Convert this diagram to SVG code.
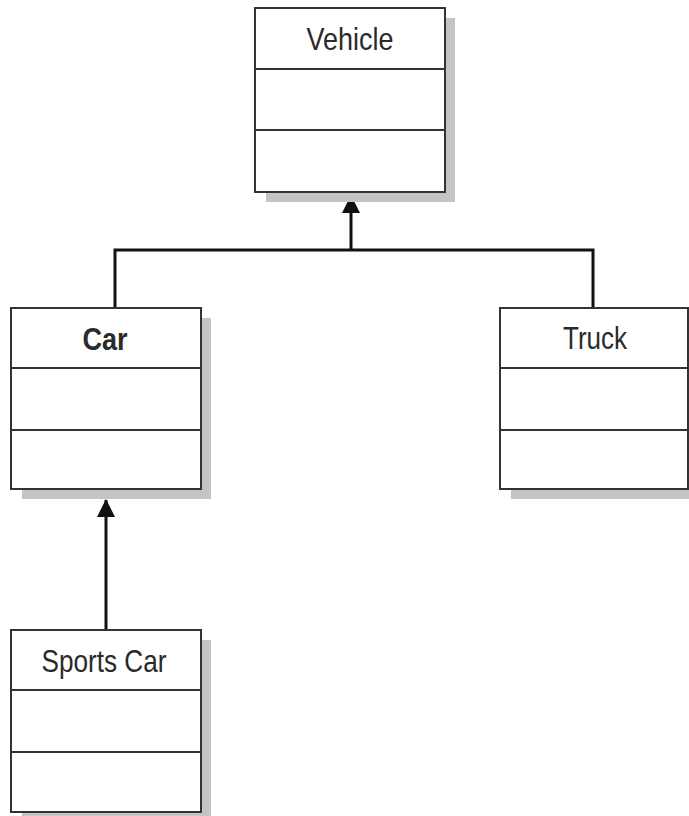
<svg xmlns="http://www.w3.org/2000/svg" width="689" height="816" viewBox="0 0 689 816">
<style>
.shadow{fill:#c4c4c4}
.box{fill:#fff;stroke:#333;stroke-width:2}
.div{stroke:#333;stroke-width:2}
.lbl{font-family:"Liberation Sans",Arial,sans-serif;font-size:32px;fill:#2a2a2a;text-anchor:middle}
.conn{fill:none;stroke:#111;stroke-width:3}
</style>
<defs>
<marker id="arr" markerWidth="18" markerHeight="18" refX="17" refY="9" orient="auto" markerUnits="userSpaceOnUse" viewBox="0 0 18 18">
<path d="M0,0 L18,9 L0,18 Z" fill="#111"/>
</marker>
</defs>
<g id="connectors">
<path class="conn" d="M115,308 V250 H593 V308"/>
<line class="conn" x1="351" y1="250" x2="351" y2="196" marker-end="url(#arr)"/>
<line class="conn" x1="106" y1="630" x2="106" y2="500" marker-end="url(#arr)"/>
</g>
<g id="vehicle">
<rect class="shadow" x="266" y="18" width="189" height="184"/>
<rect class="box" x="255" y="8" width="190" height="184"/>
<line class="div" x1="255" y1="69" x2="445" y2="69"/>
<line class="div" x1="255" y1="130" x2="445" y2="130"/>
<text class="lbl" x="350" y="50" textLength="87" lengthAdjust="spacingAndGlyphs">Vehicle</text>
</g>
<g id="car">
<rect class="shadow" x="22" y="318" width="189" height="181"/>
<rect class="box" x="11" y="308" width="190" height="181"/>
<line class="div" x1="11" y1="368" x2="201" y2="368"/>
<line class="div" x1="11" y1="430" x2="201" y2="430"/>
<text class="lbl" x="105" y="350" font-weight="bold" textLength="45" lengthAdjust="spacingAndGlyphs">Car</text>
</g>
<g id="truck">
<rect class="shadow" x="511" y="318" width="178" height="181"/>
<rect class="box" x="500" y="308" width="188" height="181"/>
<line class="div" x1="500" y1="368" x2="688" y2="368"/>
<line class="div" x1="500" y1="430" x2="688" y2="430"/>
<text class="lbl" x="595" y="349" textLength="64" lengthAdjust="spacingAndGlyphs">Truck</text>
</g>
<g id="sportscar">
<rect class="shadow" x="22" y="640" width="189" height="176"/>
<rect class="box" x="11" y="630" width="190" height="182"/>
<line class="div" x1="11" y1="690" x2="201" y2="690"/>
<line class="div" x1="11" y1="752" x2="201" y2="752"/>
<text class="lbl" x="104" y="672" textLength="125" lengthAdjust="spacingAndGlyphs">Sports Car</text>
</g>
</svg>
